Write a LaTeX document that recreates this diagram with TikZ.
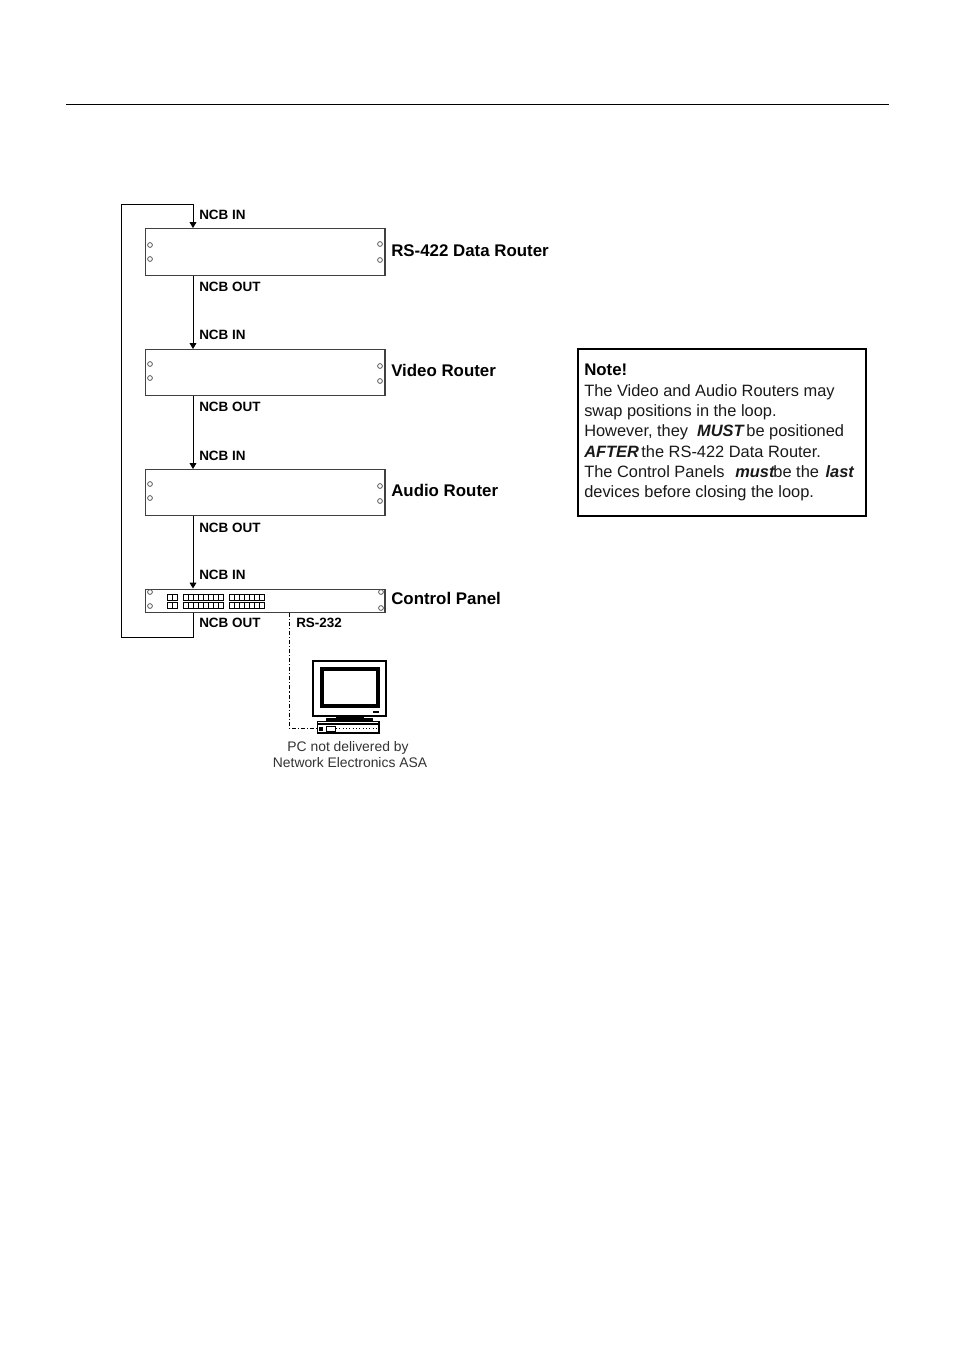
\documentclass[tikz,border=0pt]{standalone}
\usepackage{fontspec}
\setmainfont{Liberation Sans}
\usetikzlibrary{arrows,arrows.meta,positioning}
\definecolor{framegray}{gray}{0.25}
\tikzset{
  routerbox/.style={draw=framegray, line width=0.8pt, minimum width=179.6pt, inner sep=0pt, anchor=north west},
  portlabel/.style={font=\bfseries\fontsize{10.1}{12}\selectfont, anchor=west, inner sep=0pt},
  routerlabel/.style={font=\bfseries\fontsize{12.65}{15}\selectfont, anchor=west, inner sep=0pt},
  notetext/.style={font=\fontsize{12.3}{14}\selectfont, anchor=base west, inner sep=0pt, text=black!90},
  pctext/.style={font=\fontsize{10.4}{12}\selectfont, anchor=base, inner sep=0pt, text=black!80},
  screwhole/.style={draw=framegray, line width=0.5pt, fill=white},
  ncbline/.style={line width=0.65pt},
  keyrow/.style={draw, line width=0.6pt, fill=white},
}
\begin{document}
\begin{tikzpicture}[x=0.75pt, y=-0.75pt, >=Triangle]
    \useasboundingbox (0,0) rectangle (954,1350);
    \draw[line width=0.5pt] (66,104) -- (889,104);

    % the four units of the loop
    \node at (145,228) [routerbox, minimum height=35.3pt] (dataRouter) {};
    \node at (145,349) [routerbox, minimum height=34.5pt] (videoRouter) {};
    \node at (145,469) [routerbox, minimum height=34.5pt] (audioRouter) {};
    \node at (145,588.5) [routerbox, minimum height=17.5pt] (controlPanel) {};

    \node at (391,251) [routerlabel] (dataName) {RS-422 Data Router};
    \node at (391,370.5) [routerlabel] (videoName) {Video Router};
    \node at (391,490.5) [routerlabel] (audioName) {Audio Router};
    \node at (391,598.5) [routerlabel] (panelName) {Control Panel};

    \foreach \y in {245,259} \draw[screwhole] (150,\y) circle (2.4);
    \foreach \y in {244,260} \draw[screwhole] (380,\y) circle (2.4);
    \foreach \y in {364,378} \draw[screwhole] (150,\y) circle (2.4);
    \foreach \y in {366,381} \draw[screwhole] (380,\y) circle (2.4);
    \foreach \y in {484,498} \draw[screwhole] (150,\y) circle (2.4);
    \foreach \y in {486,501} \draw[screwhole] (380,\y) circle (2.4);
    \foreach \y in {592,606} \draw[screwhole] (150,\y) circle (2.4);
    \foreach \y in {592,608} \draw[screwhole] (381,\y) circle (2.4);

    % push buttons of the control panel
    \foreach \y in {594,602} {
      \foreach \x in {167,172} \draw[keyrow] (\x,\y) rectangle ++(5,6);
      \foreach \x in {183,188,...,218} \draw[keyrow] (\x,\y) rectangle ++(5,6);
      \foreach \x in {229,234,...,259} \draw[keyrow] (\x,\y) rectangle ++(5,6);
    }

    % NCB connections
    \coordinate (dataIn) at (dataRouter.north west -| 193,0);
    \coordinate (dataOut) at (dataRouter.south west -| 193,0);
    \coordinate (videoIn) at (videoRouter.north west -| 193,0);
    \coordinate (videoOut) at (videoRouter.south west -| 193,0);
    \coordinate (audioIn) at (audioRouter.north west -| 193,0);
    \coordinate (audioOut) at (audioRouter.south west -| 193,0);
    \coordinate (panelIn) at (controlPanel.north west -| 193,0);
    \coordinate (panelOut) at (controlPanel.south west -| 193,0);
    \coordinate (loopLow) at (121,637);
    \coordinate (loopHigh) at (121,204);
    \draw[ncbline,->] (dataOut) -- (videoIn);
    \draw[ncbline,->] (videoOut) -- (audioIn);
    \draw[ncbline,->] (audioOut) -- (panelIn);
    \draw[ncbline,->] (panelOut) |- (loopLow) -- (loopHigh) -| (dataIn);

    \node at (199,215) [portlabel] (inA) {NCB IN};
    \node at (199,287) [portlabel] (outA) {NCB OUT};
    \node at (199,335) [portlabel] (inB) {NCB IN};
    \node at (199,407) [portlabel] (outB) {NCB OUT};
    \node at (199,455.5) [portlabel] (inC) {NCB IN};
    \node at (199,528) [portlabel] (outC) {NCB OUT};
    \node at (199,575) [portlabel] (inD) {NCB IN};
    \node at (199,623) [portlabel] (outD) {NCB OUT};
    \node at (296,623) [portlabel] (rsLabel) {RS-232};

    % the PC
    \node at (312,660) [draw, line width=1.2pt, minimum width=55pt, minimum height=41.5pt, inner sep=0pt, anchor=north west] (monitor) {};
    \node at (320,667) [draw, line width=3pt, minimum width=42pt, minimum height=28pt, inner sep=0pt, anchor=north west] (screen) {};
    \fill (373,711) rectangle (379,713);
    \fill (336,716) rectangle (364,718);
    \fill (326,718) rectangle (373,721);
    \node at (317,721) [draw, line width=1pt, minimum width=46pt, minimum height=8.5pt, inner sep=0pt, anchor=north west] (keyboard) {};
    \draw[line width=0.8pt] (318,724) -- (380,724);
    \fill (319,727) rectangle (323,731);
    \draw[line width=0.5pt] (326,726) rectangle (335,731);
    \draw[line width=0.5pt, dotted] (336,728) -- (379,728);

    \coordinate (rsStart) at (controlPanel.south west -| 289,0);
    \coordinate (rsCorner) at (289,728);
    \draw[line width=0.6pt, dash pattern=on 3pt off 1.5pt on 0.8pt off 1.5pt] (rsStart) -- (rsCorner) -- (keyboard.west |- rsCorner);

    \node at (348,751) [pctext] (pcLineA) {PC not delivered by};
    \node at (350,767) [pctext] (pcLineB) {Network Electronics ASA};

    % note
    \node at (577,348) [draw, line width=1.5pt, minimum width=215.8pt, minimum height=125pt, inner sep=0pt, anchor=north west] (noteBox) {};
    \node at (584,375) [font=\bfseries\fontsize{12.6}{14}\selectfont, anchor=base west, inner sep=0pt] (noteHead) {Note!};
    \node at (584,396) [notetext] (noteA) {The Video and Audio Routers may};
    \node at (584,416) [notetext] (noteB) {swap positions in the loop.};
    \node at (584,436.5) [notetext] (noteC) {However, they\hspace{0.55em}\textbf{\textit{MUST}}\hspace{0.1em}be positioned};
    \node at (584,457) [notetext] (noteD) {\textbf{\textit{AFTER}}\hspace{0.15em}the RS-422 Data Router.};
    \node at (584,477.5) [notetext] (noteE) {The Control Panels\hspace{0.65em}\textbf{\textit{must}}\hspace{-0.1em}be the\hspace{0.4em}\textbf{\textit{last}}};
    \node at (584,497.5) [notetext] (noteF) {devices before closing the loop.};
\end{tikzpicture}
\end{document}
